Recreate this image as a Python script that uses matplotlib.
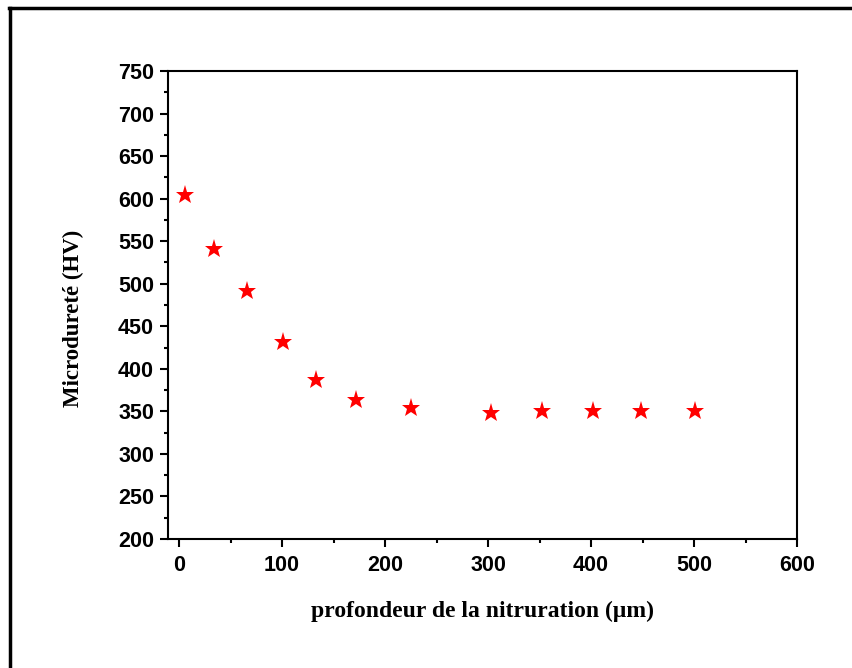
import matplotlib
matplotlib.use("Agg")
import matplotlib.pyplot as plt
from matplotlib.ticker import MultipleLocator
from matplotlib.lines import Line2D

depth = [6, 34, 66, 101, 133, 172, 225, 303, 352, 402, 449, 501]
hardness = [604, 541, 491, 431, 387, 363, 354, 348, 350, 351, 351, 351]

fig = plt.figure(figsize=(8.53, 6.68), dpi=100)
ax = fig.add_axes([168/853, 1-539/668, (797-168)/853, (539-71)/668])

ax.plot(depth, hardness, linestyle='none', marker='*', color='red',
        markersize=14, markeredgewidth=0)

ax.set_xlim(-10.7, 600)
ax.set_ylim(200, 750)
ax.xaxis.set_major_locator(MultipleLocator(100))
ax.xaxis.set_minor_locator(MultipleLocator(50))
ax.yaxis.set_major_locator(MultipleLocator(50))
ax.yaxis.set_minor_locator(MultipleLocator(25))
ax.tick_params(which='both', direction='out', top=False, right=False, width=1.5)
ax.tick_params(which='major', length=5.5)
ax.tick_params(which='minor', length=3)
ax.tick_params(axis='x', which='major', pad=6)
ax.tick_params(axis='y', which='major', pad=4.5)
for s in ax.spines.values():
    s.set_linewidth(1.5)

for lbl in ax.get_xticklabels() + ax.get_yticklabels():
    lbl.set_fontfamily('Liberation Sans')
    lbl.set_fontweight('bold')
    lbl.set_fontsize(15.5)

ax.set_xlabel('profondeur de la nitruration (\u03bcm)', fontfamily='Liberation Serif',
              fontweight='bold', fontsize=17)
ax.set_ylabel('Microdureté (HV)', fontfamily='Liberation Serif',
              fontweight='bold', fontsize=16.5)
ax.xaxis.set_label_coords(0.5, -(611 - 539) / 468)
ax.xaxis.label.set_va('center')
ax.yaxis.set_label_coords(-(168 - 73) / 629, (539 - 318) / 468)
ax.yaxis.label.set_va('center')

# outer frame (left and top lines)
fig.add_artist(Line2D([10/853, 10/853], [0, 1-8/668], transform=fig.transFigure,
                      color='black', linewidth=2.5))
fig.add_artist(Line2D([9/853, 1], [1-8/668, 1-8/668], transform=fig.transFigure,
                      color='black', linewidth=2.5))

fig.savefig('out.png', dpi=100)
